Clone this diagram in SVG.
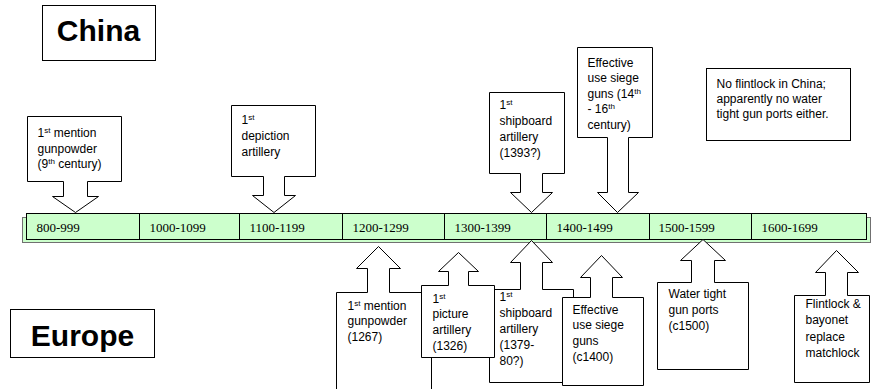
<svg xmlns="http://www.w3.org/2000/svg" width="872" height="389" viewBox="0 0 872 389">
<style>
.shape{fill:#fff;stroke:#000;stroke-width:1}
.t{font-family:"Liberation Sans",Arial,sans-serif;font-size:12px;fill:#000}
.sup{font-size:8px}
.big{font-family:"Liberation Sans",Arial,sans-serif;font-size:30px;font-weight:bold;fill:#000}
.cell{font-family:"Liberation Serif","Times New Roman",serif;font-size:13px;fill:#000}
.band{fill:#ccffcc;stroke:#000;stroke-width:1}
.bandout{fill:#ccffcc;stroke:#707070;stroke-width:1}
</style>
<rect width="872" height="389" fill="#fff"/>
<g transform="translate(0.5,0.5)">
<g id="china-label"><rect class="shape" x="42" y="5" width="113" height="55"/><text class="big" x="98" y="40" text-anchor="middle">China</text></g>
<g id="europe-label"><rect class="shape" x="10" y="309" width="144" height="48"/><text class="big" x="82" y="345" text-anchor="middle">Europe</text></g>

<g id="timeline">
<rect class="bandout" x="22" y="217" width="848" height="25"/>
<rect class="band" x="26" y="213" width="840" height="26"/>
<g stroke="#000">
<line x1="139" y1="213" x2="139" y2="239"/><line x1="239" y1="213" x2="239" y2="239"/><line x1="342" y1="213" x2="342" y2="239"/><line x1="444" y1="213" x2="444" y2="239"/><line x1="546" y1="213" x2="546" y2="239"/><line x1="649" y1="213" x2="649" y2="239"/><line x1="751" y1="213" x2="751" y2="239"/>
</g>
<text class="cell" x="36" y="231">800-999</text>
<text class="cell" x="149" y="231">1000-1099</text>
<text class="cell" x="249" y="231">1100-1199</text>
<text class="cell" x="352" y="231">1200-1299</text>
<text class="cell" x="454" y="231">1300-1399</text>
<text class="cell" x="556" y="231">1400-1499</text>
<text class="cell" x="658" y="231">1500-1599</text>
<text class="cell" x="761" y="231">1600-1699</text>
</g>

<g id="connectors"></g>

<g id="c-gunpowder">
<path class="shape" d="M27 116H121V181H87V196H98L75 212L52 196H63V181H27Z"/>
<text class="t" x="37" y="136">1<tspan class="sup" dy="-4">st</tspan><tspan dy="4"> mention</tspan></text>
<text class="t" x="37" y="152">gunpowder</text>
<text class="t" x="37" y="167">(9<tspan class="sup" dy="-4">th</tspan><tspan dy="4"> century)</tspan></text>
</g>
<g id="c-depiction">
<path class="shape" d="M231 105H315V176H284V195H295L273.5 212L252 195H263V176H231Z"/>
<text class="t" x="241" y="123">1<tspan class="sup" dy="-4">st</tspan></text>
<text class="t" x="241" y="139">depiction</text>
<text class="t" x="241" y="155">artillery</text>
</g>
<g id="c-shipboard">
<path class="shape" d="M489 92H564V173H542V192H552L531 212L510 192H520V173H489Z"/>
<text class="t" x="499" y="108">1<tspan class="sup" dy="-4">st</tspan></text>
<text class="t" x="499" y="124">shipboard</text>
<text class="t" x="499" y="140">artillery</text>
<text class="t" x="499" y="156">(1393?)</text>
</g>
<g id="c-siege">
<path class="shape" d="M577 47H652V137H628V192H638L617 212L597 192H607V137H577Z"/>
<text class="t" x="587" y="66">Effective</text>
<text class="t" x="587" y="81">use siege</text>
<text class="t" x="587" y="97">guns (14<tspan class="sup" dy="-4">th</tspan></text>
<text class="t" x="587" y="112">- 16<tspan class="sup" dy="-4">th</tspan></text>
<text class="t" x="587" y="128">century)</text>
</g>
<g id="n-noflint">
<rect class="shape" x="706" y="68" width="144" height="72"/>
<text class="t" x="716" y="87">No flintlock in China;</text>
<text class="t" x="716" y="102">apparently no water</text>
<text class="t" x="716" y="117">tight gun ports either.</text>
</g>

<g id="e-gunpowder">
<path class="shape" d="M336 292H367V268H356L378 246L400 268H389V292H431V400H336Z"/>
<text class="t" x="347" y="309">1<tspan class="sup" dy="-4">st</tspan><tspan dy="4"> mention</tspan></text>
<text class="t" x="347" y="324">gunpowder</text>
<text class="t" x="347" y="340">(1267)</text>
</g>
<g id="e-shipboard">
<path class="shape" d="M489 289H520V262H510L531 240L552 262H542V289H573V382H489Z"/>
<text class="t" x="499" y="300">1<tspan class="sup" dy="-4">st</tspan></text>
<text class="t" x="499" y="316">shipboard</text>
<text class="t" x="499" y="332">artillery</text>
<text class="t" x="499" y="348">(1379-</text>
<text class="t" x="499" y="364">80?)</text>
</g>
<g id="e-picture">
<path class="shape" d="M421 285H448V271H438L458 252L478 271H468V285H494V357H421Z"/>
<text class="t" x="432" y="302">1<tspan class="sup" dy="-4">st</tspan></text>
<text class="t" x="432" y="317">picture</text>
<text class="t" x="432" y="333">artillery</text>
<text class="t" x="432" y="349">(1326)</text>
</g>
<g id="e-siege">
<path class="shape" d="M562 297H590V277H580L601 255L622 277H612V297H643V385H562Z"/>
<text class="t" x="572" y="313">Effective</text>
<text class="t" x="572" y="328">use siege</text>
<text class="t" x="572" y="344">guns</text>
<text class="t" x="572" y="360">(c1400)</text>
</g>
<g id="e-ports">
<path class="shape" d="M657 282H691V260H680L702.5 239L725 260H714V282H748V369H657Z"/>
<text class="t" x="668" y="297">Water tight</text>
<text class="t" x="668" y="313">gun ports</text>
<text class="t" x="668" y="329">(c1500)</text>
</g>
<g id="e-flintlock">
<path class="shape" d="M794 295H825V272H815L836 250L858 272H847V295H869V382H794Z"/>
<text class="t" x="805" y="307">Flintlock &amp;</text>
<text class="t" x="805" y="323">bayonet</text>
<text class="t" x="805" y="340">replace</text>
<text class="t" x="805" y="356">matchlock</text>
</g>
</g>
</svg>
